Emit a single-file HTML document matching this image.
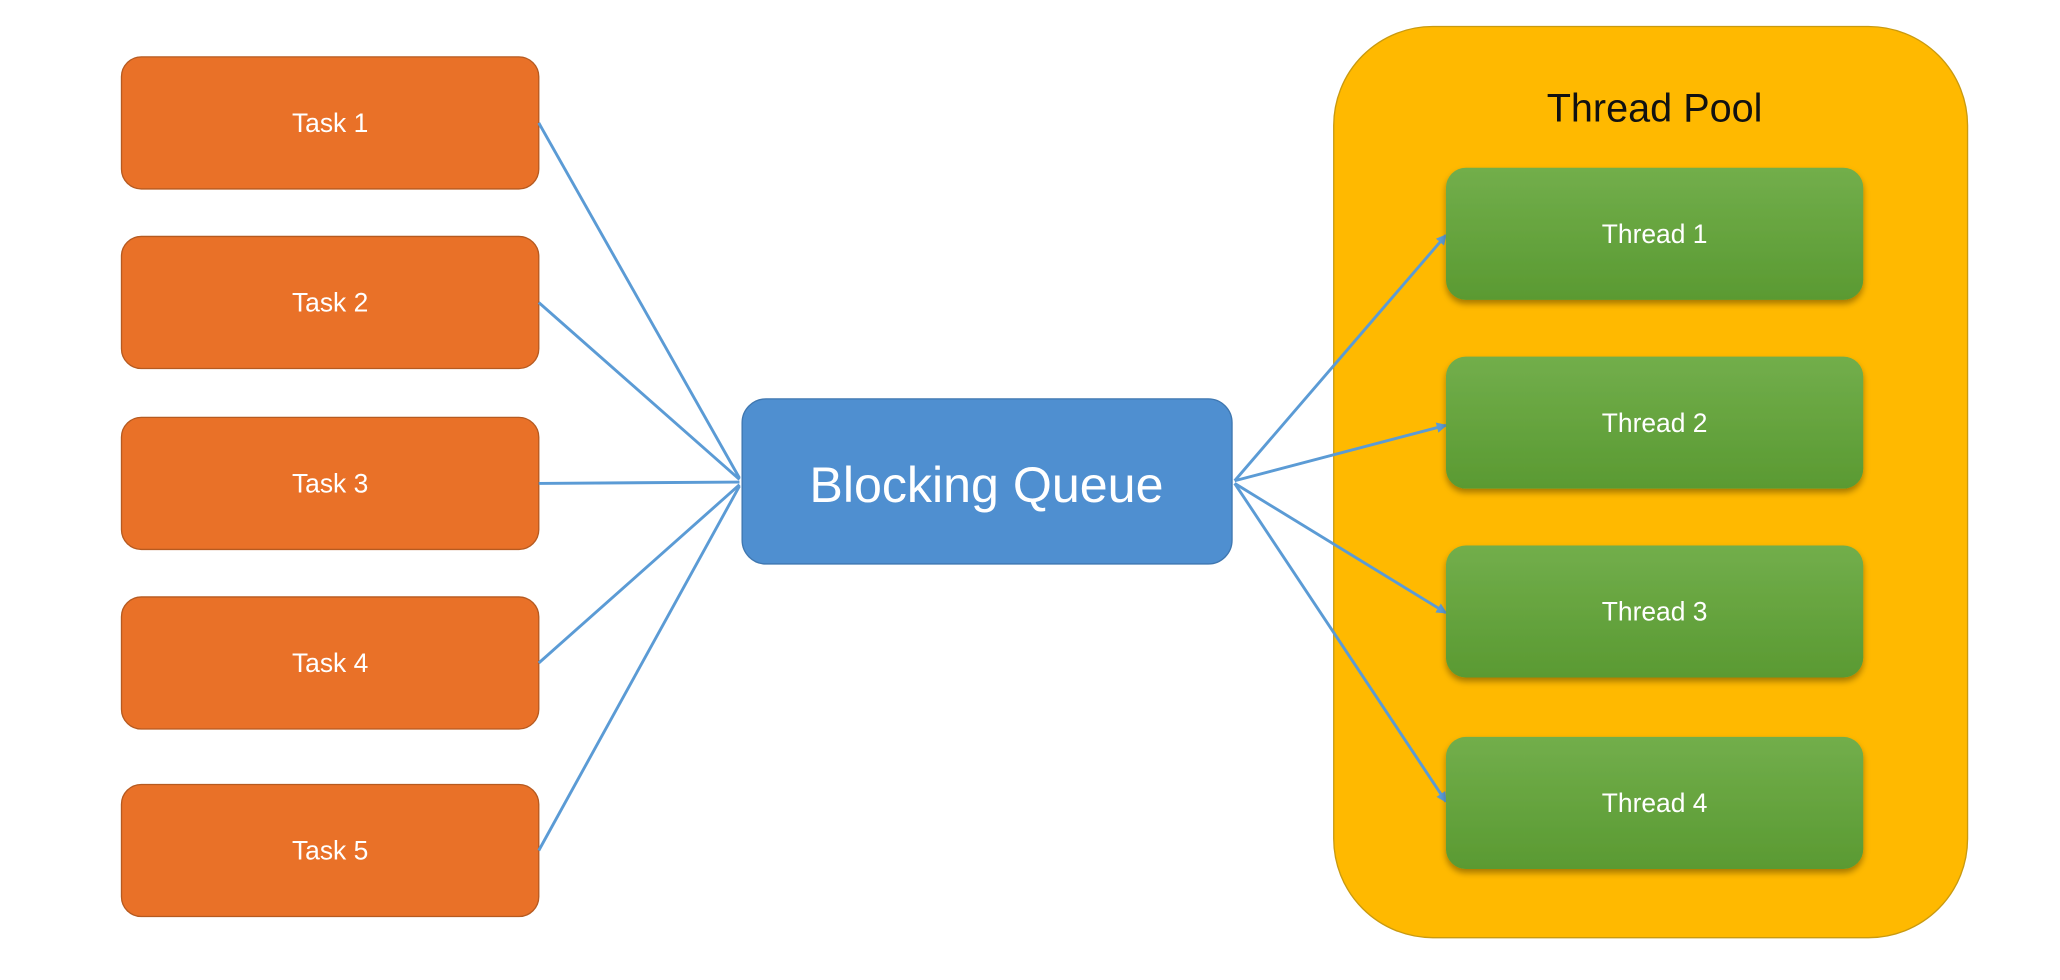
<!DOCTYPE html>
<html><head><meta charset="utf-8"><style>
html,body{margin:0;padding:0;background:#fff;width:2060px;height:980px;overflow:hidden}
svg{display:block}
text{font-family:"Liberation Sans",sans-serif}
</style></head><body>
<svg width="2060" height="980" viewBox="0 0 1560 742" xmlns="http://www.w3.org/2000/svg">
<defs>
<linearGradient id="g" x1="0" y1="0" x2="0" y2="1"><stop offset="0" stop-color="#72ae4b"/><stop offset="1" stop-color="#5a9a32"/></linearGradient>
<filter id="s" x="-10%" y="-10%" width="120%" height="130%"><feDropShadow dx="0" dy="3" stdDeviation="2.5" flood-color="#000" flood-opacity="0.35"/></filter>
<marker id="a" markerWidth="8" markerHeight="8" refX="7" refY="4" orient="auto" markerUnits="userSpaceOnUse"><path d="M0,0 L8,4 L0,8 z" fill="#5b9bd5"/></marker>
</defs>
<rect x="1010" y="20" width="480" height="690" rx="75" fill="#ffb900" stroke="#c99a10" stroke-width="1"/>
<text x="1253" y="92" font-size="30" text-anchor="middle" fill="#111">Thread Pool</text>
<g fill="#e97128" stroke="#b65a20" stroke-width="1">
<rect x="92" y="43" width="316" height="100" rx="15"/>
<rect x="92" y="179" width="316" height="100" rx="15"/>
<rect x="92" y="316" width="316" height="100" rx="15"/>
<rect x="92" y="452" width="316" height="100" rx="15"/>
<rect x="92" y="594" width="316" height="100" rx="15"/>
</g>
<g font-size="20" fill="#fff" text-anchor="middle">
<text x="250" y="100">Task 1</text>
<text x="250" y="236">Task 2</text>
<text x="250" y="373">Task 3</text>
<text x="250" y="509">Task 4</text>
<text x="250" y="651">Task 5</text>
</g>
<g stroke="#5b9bd5" stroke-width="2.2" fill="none">
<line x1="408" y1="93" x2="560" y2="362"/>
<line x1="408" y1="229" x2="560" y2="363"/>
<line x1="408" y1="366" x2="560" y2="365"/>
<line x1="408" y1="502" x2="560" y2="367"/>
<line x1="408" y1="644" x2="560" y2="368"/>
<line x1="935" y1="364" x2="1095" y2="178" marker-end="url(#a)"/>
<line x1="935" y1="364" x2="1095" y2="322" marker-end="url(#a)"/>
<line x1="935" y1="366" x2="1095" y2="464" marker-end="url(#a)"/>
<line x1="935" y1="366" x2="1095" y2="607" marker-end="url(#a)"/>
</g>
<rect x="562" y="302" width="371" height="125" rx="18" fill="#4f8fd0" stroke="#3f77b0" stroke-width="1"/>
<text x="747" y="380" font-size="38" text-anchor="middle" fill="#fff">Blocking Queue</text>
<g fill="url(#g)" filter="url(#s)">
<rect x="1095" y="127" width="316" height="100" rx="15"/>
<rect x="1095" y="270" width="316" height="100" rx="15"/>
<rect x="1095" y="413" width="316" height="100" rx="15"/>
<rect x="1095" y="558" width="316" height="100" rx="15"/>
</g>
<g font-size="20" fill="#fff" text-anchor="middle">
<text x="1253" y="184">Thread 1</text>
<text x="1253" y="327">Thread 2</text>
<text x="1253" y="470">Thread 3</text>
<text x="1253" y="615">Thread 4</text>
</g>
</svg>
</body></html>
